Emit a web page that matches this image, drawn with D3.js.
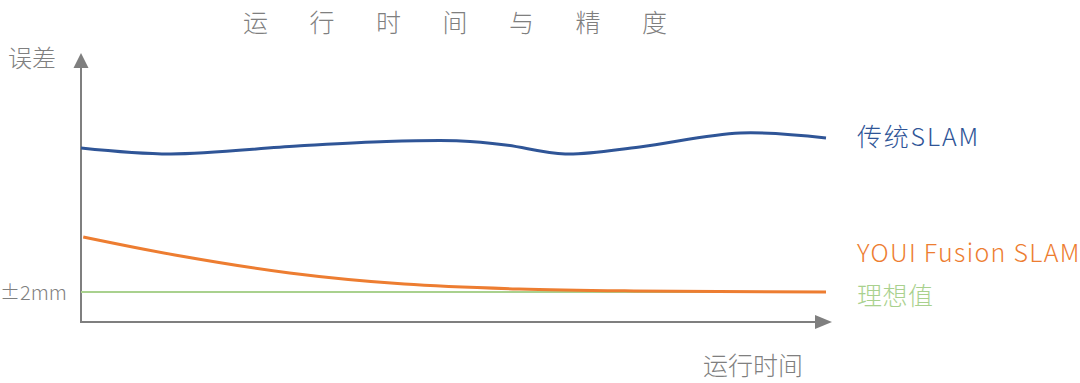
<!DOCTYPE html>
<html>
<head>
<meta charset="utf-8">
<script src="https://cdn.jsdelivr.net/npm/d3@7"></script>
<style>
  body { margin: 0; background: #fff; }
  text { font-family: "Noto Sans CJK SC", "Noto Sans", sans-serif; font-weight: 300; }
</style>
</head>
<body>
<script>
// 时间 (0-100) 与误差 (任意单位, 理想值 = 2)
let traditionalT = [0, 12, 29, 41, 51, 57, 65, 75, 88.5, 100];
let traditionalV = [11.6, 11.2, 11.73, 12.03, 12.07, 11.8, 11.2, 11.67, 12.6, 12.27];

let fusionT = [0.3, 12.6, 28, 43.4, 58.8, 74.2, 100];
let fusionV = [5.67, 4.47, 3.27, 2.53, 2.2, 2.07, 2.0];

let idealT = [0, 100];
let idealV = [2, 2];

let seriesNames = ["传统SLAM", "YOUI Fusion SLAM", "理想值"];
let seriesColors = ["#2F5597", "#ED7D31", "#A9D18E"];

let title = "运行时间与精度";
let yLabel = "误差";
let xLabel = "运行时间";
let idealLabel = "±2mm";

let width = 1080,
    height = 383;

let svg = d3.select("body").append("svg")
    .attr("width", width).attr("height", height);

let x = d3.scaleLinear().domain([0, 100]).range([81, 826]);
let y = d3.scaleLinear().domain([0, 17.5]).range([322, 59.5]);

let gray = "#7f7f7f";

// ejes
svg.append("line")
    .attr("x1", x(0)).attr("x2", x(100) + 1)
    .attr("y1", y(0)).attr("y2", y(0))
    .attr("stroke", gray).attr("stroke-width", 2);
svg.append("path")
    .attr("d", `M${x(100) + 6},${y(0)} l-17,-7 l0,14 z`)
    .attr("fill", gray);

svg.append("line")
    .attr("x1", x(0)).attr("x2", x(0))
    .attr("y1", y(0) + 1).attr("y2", 66)
    .attr("stroke", gray).attr("stroke-width", 2);
svg.append("path")
    .attr("d", `M${x(0)},53 l-7.5,15 l15,0 z`)
    .attr("fill", gray);

// lineas
let line = d3.line()
    .x((d) => x(d[0]))
    .y((d) => y(d[1]))
    .curve(d3.curveCatmullRom.alpha(0.5));

let series = [
    d3.zip(traditionalT, traditionalV),
    d3.zip(fusionT, fusionV),
    d3.zip(idealT, idealV)
];
let widths = [3, 3, 2];

// ideal first so orange sits on top
[2, 0, 1].forEach((i) => {
    svg.append("path")
        .attr("d", line(series[i]))
        .attr("fill", "none")
        .attr("stroke", seriesColors[i])
        .attr("stroke-width", widths[i]);
});

// etiquetas de series
let labelY = [146, 262, 305];
let labelSpacing = [1.8, 1.3, 0.5];
seriesNames.forEach((n, i) => {
    svg.append("text")
        .attr("x", 857).attr("y", labelY[i])
        .attr("fill", seriesColors[i])
        .attr("font-size", 25)
        .attr("letter-spacing", labelSpacing[i])
        .text(n);
});

// textos
svg.append("text")
    .attr("x", 243).attr("y", 32)
    .attr("fill", gray)
    .attr("font-size", 25)
    .attr("letter-spacing", 41.5)
    .text(title);

svg.append("text")
    .attr("x", 8).attr("y", 67)
    .attr("fill", gray)
    .attr("font-size", 24)
    .text(yLabel);

svg.append("text")
    .attr("x", 0).attr("y", y(2) + 8)
    .attr("fill", gray)
    .attr("font-size", 20)
    .text(idealLabel);

svg.append("text")
    .attr("x", 703).attr("y", 375)
    .attr("fill", gray)
    .attr("font-size", 25)
    .text(xLabel);
</script>
</body>
</html>
